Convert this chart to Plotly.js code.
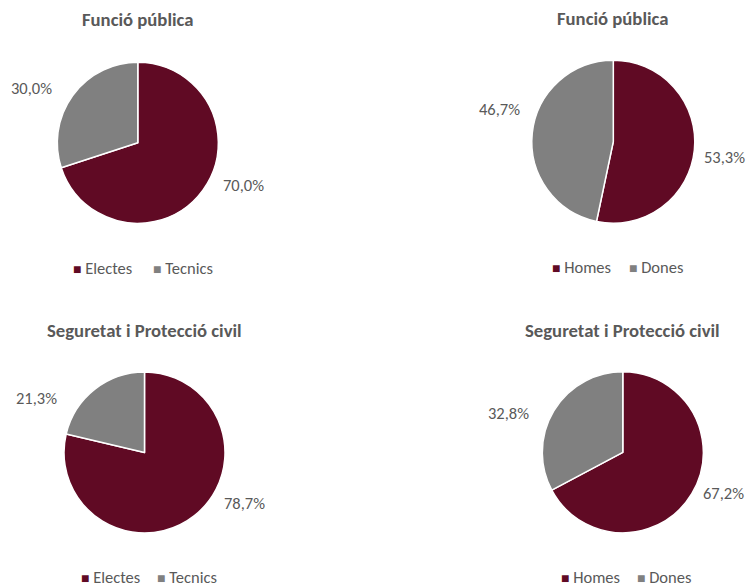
<!DOCTYPE html>
<html>
<head>
<meta charset="utf-8">
<script src="https://cdn.plot.ly/plotly-3.0.1.min.js"></script>
<style>
  html, body { margin: 0; padding: 0; background: #ffffff; }
  #chart { width: 748px; height: 586px; }
</style>
</head>
<body>
<div id="chart"></div>
<script>
// ---- data ----
const chartTitles = ['Funció pública', 'Funció pública', 'Seguretat i Protecció civil', 'Seguretat i Protecció civil'];
const roleCategories = ['Electes', 'Tecnics'];
const genderCategories = ['Homes', 'Dones'];
const funcioRoleValues = [70.0, 30.0];
const funcioGenderValues = [53.3, 46.7];
const seguretatRoleValues = [78.7, 21.3];
const seguretatGenderValues = [67.2, 32.8];

// ---- styling / layout ----
const W = 748, H = 586;
const FONT = 'Carlito, Lato, "Open Sans", sans-serif';
const TXT = '#595959';
const colors = ['#600A24', '#808080'];

const panels = [
  { labels: roleCategories,   values: funcioRoleValues,      cx: 137.8, cy: 142.8, r: 80.5,
    title: [138, 19], lab: [[243, 185], [31.7, 88]], leg: [72, 268], leg2: 152 },
  { labels: genderCategories, values: funcioGenderValues,    cx: 613.3, cy: 141.7, r: 81.5,
    title: [613, 18], lab: [[724, 157], [499, 109]], leg: [551.5, 267], leg2: 628 },
  { labels: roleCategories,   values: seguretatRoleValues,   cx: 144.5, cy: 452.5, r: 80.5,
    title: [144, 330.5], lab: [[244, 502.7], [36, 398]], leg: [80, 576.5], leg2: 156.5 },
  { labels: genderCategories, values: seguretatGenderValues, cx: 622.8, cy: 452.3, r: 80.5,
    title: [622, 330.5], lab: [[723.5, 493], [508, 413]], leg: [560, 576.5], leg2: 636.5 }
];

const px = x => x / W;
const py = y => 1 - y / H;
const fmt = v => v.toFixed(1).replace('.', ',') + '%';

const traces = [];
const annotations = [];

panels.forEach((p, i) => {
  traces.push({
    type: 'pie',
    labels: p.labels,
    values: p.values,
    sort: false,
    direction: 'clockwise',
    rotation: 0,
    textinfo: 'none',
    hoverinfo: 'label+percent',
    showlegend: false,
    marker: { colors: colors, line: { color: '#ffffff', width: 1.5 } },
    domain: { x: [px(p.cx - p.r), px(p.cx + p.r)], y: [py(p.cy + p.r), py(p.cy - p.r)] }
  });
  // title
  annotations.push({
    text: '<b>' + chartTitles[i] + '</b>', xref: 'paper', yref: 'paper',
    x: px(p.title[0]), y: py(p.title[1]), xanchor: 'center', yanchor: 'middle',
    showarrow: false, font: { family: FONT, size: 18.7, color: TXT }
  });
  // data labels
  p.values.forEach((v, k) => {
    annotations.push({
      text: fmt(v), xref: 'paper', yref: 'paper',
      x: px(p.lab[k][0]), y: py(p.lab[k][1]), xanchor: 'center', yanchor: 'middle',
      showarrow: false, font: { family: FONT, size: 16.5, color: TXT }
    });
  });
  // legend items
  const legX = [p.leg[0], p.leg2];
  p.labels.forEach((lab, k) => {
    annotations.push({
      text: '<span style="color:' + colors[k] + ';font-size:14px">■</span> ' + lab,
      xref: 'paper', yref: 'paper',
      x: px(legX[k] - 1.5), y: py(p.leg[1]), xanchor: 'left', yanchor: 'middle',
      showarrow: false, font: { family: FONT, size: 16.5, color: TXT }
    });
  });
});

const layout = {
  width: W, height: H,
  margin: { l: 0, r: 0, t: 0, b: 0 },
  paper_bgcolor: '#ffffff',
  plot_bgcolor: '#ffffff',
  font: { family: FONT, color: TXT },
  showlegend: false,
  annotations: annotations
};

Plotly.newPlot('chart', traces, layout, { displayModeBar: false, staticPlot: true });
</script>
</body>
</html>
